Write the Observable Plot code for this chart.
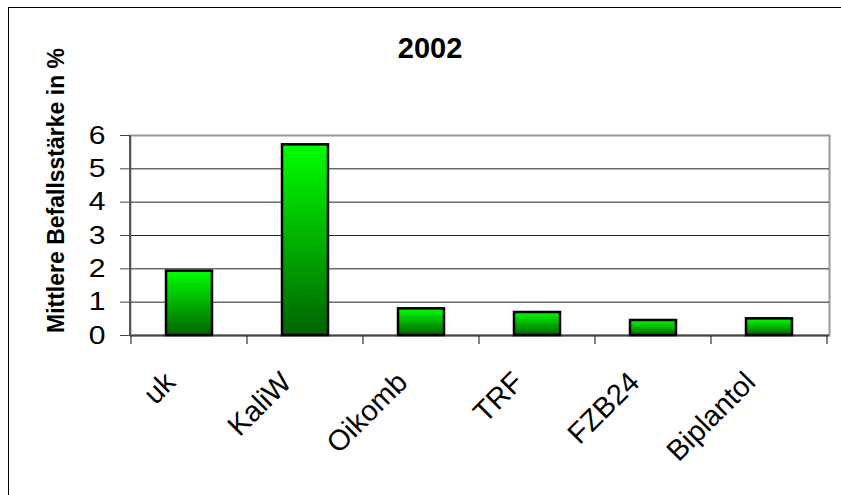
<!DOCTYPE html>
<html>
<head>
<meta charset="utf-8">
<script src="https://cdn.jsdelivr.net/npm/d3@7"></script>
<script src="https://cdn.jsdelivr.net/npm/@observablehq/plot@0.6"></script>
<style>
  html, body { margin: 0; padding: 0; background: #fff; overflow: hidden; }
  #wrap { position: relative; width: 841px; height: 495px; }
  #outer { position: absolute; left: 8px; top: 7px; width: 900px; height: 600px; border: 1.5px solid #000; box-sizing: border-box; }
  #chart { position: absolute; left: 0; top: 0; }
</style>
</head>
<body>
<div id="wrap"><div id="outer"></div><div id="chart"></div></div>
<script>
const categories = ["uk", "KaliW", "Oikomb", "TRF", "FZB24", "Biplantol"];
const values = [1.93, 5.72, 0.80, 0.69, 0.45, 0.50];
const yTicks = [0, 1, 2, 3, 4, 5, 6];
const gridValues = [1, 2, 3, 4, 5];
const titleText = "2002";
const yLabel = "Mittlere Befallsstärke in %";

const data = categories.map((c, i) => ({cat: c, value: values[i]}));
const NS = "http://www.w3.org/2000/svg";

function gradientDefs() {
  const defs = document.createElementNS(NS, "defs");
  const lg = document.createElementNS(NS, "linearGradient");
  lg.setAttribute("id", "barGrad");
  lg.setAttribute("x1", "0"); lg.setAttribute("y1", "0");
  lg.setAttribute("x2", "0"); lg.setAttribute("y2", "1");
  [["0%", "#00ff00"], ["100%", "#006400"]].forEach(([o, c]) => {
    const s = document.createElementNS(NS, "stop");
    s.setAttribute("offset", o); s.setAttribute("stop-color", c);
    lg.appendChild(s);
  });
  defs.appendChild(lg);
  return defs;
}

function axisDecor(index, scales, values, dims) {
  const g = document.createElementNS(NS, "g");
  const x = scales.x;
  const x0 = dims.marginLeft;
  const yb = dims.height - dims.marginBottom;
  const yt = dims.marginTop;
  const bw = x.bandwidth ? x.bandwidth() : 0;
  const step = x.step ? x.step() : bw;
  const bounds = categories.map(c => x(c) + bw / 2 - step / 2);
  bounds.push(x(categories[categories.length - 1]) + bw / 2 + step / 2);
  bounds.forEach(b => {
    const l = document.createElementNS(NS, "line");
    l.setAttribute("x1", b); l.setAttribute("x2", b);
    l.setAttribute("y1", yb); l.setAttribute("y2", yb + 9);
    l.setAttribute("stroke", "#333"); l.setAttribute("stroke-width", "1.2");
    g.appendChild(l);
  });
  const la = document.createElementNS(NS, "line");
  la.setAttribute("x1", x0); la.setAttribute("x2", x0);
  la.setAttribute("y1", yt); la.setAttribute("y2", yb + 1);
  la.setAttribute("stroke", "#555"); la.setAttribute("stroke-width", "2");
  g.appendChild(la);
  return g;
}

const chart = Plot.plot({
  width: 841,
  height: 495,
  marginLeft: 130,
  marginRight: 12,
  marginTop: 135,
  marginBottom: 160,
  style: {fontFamily: "'Liberation Sans', Arial, sans-serif", background: "transparent", overflow: "visible", color: "#000"},
  x: {domain: categories, paddingInner: 0.6, paddingOuter: 0.3, axis: null},
  y: {domain: [0, 6], label: null},
  marks: [
    gradientDefs,
    Plot.frame({stroke: "#999", strokeWidth: 2}),
    Plot.ruleY(gridValues, {stroke: "#222", strokeWidth: 1}),
    Plot.ruleY([0], {stroke: "#444", strokeWidth: 2}),
    Plot.axisY({ticks: yTicks, tickFormat: "d", tickSize: 10, tickPadding: 15, fontSize: 26, label: null, stroke: "#444"}),
    axisDecor,
    Plot.barY(data, {x: "cat", y: "value", fill: "url(#barGrad)", stroke: "#000", strokeWidth: 2.5}),
    Plot.text(categories, {x: d => d, frameAnchor: "bottom", rotate: -45, textAnchor: "end", lineAnchor: "middle", dx: -19, dy: 42, fontSize: 29, fill: "#000"}),
    Plot.text([titleText], {frameAnchor: "top", lineAnchor: "bottom", dx: -50, dy: -78, fontSize: 29, fontWeight: "bold", fill: "#000", ariaLabel: "stretch-title"}),
    Plot.text([yLabel], {frameAnchor: "left", rotate: -90, textAnchor: "middle", lineAnchor: "bottom", dx: -67, dy: -45, fontSize: 23, fontWeight: "bold", fill: "#000", ariaLabel: "stretch-ylabel"})
  ]
});
document.getElementById("chart").appendChild(chart);

// the reference's lettering is drawn slightly wider than it is tall
const STRETCH = 1.16;
chart.querySelectorAll("[aria-label^='stretch'] text, [aria-label='y-axis tick label'] text").forEach(t => {
  let ax = 0;
  const tr = t.transform && t.transform.baseVal.numberOfItems ? t.transform.baseVal.consolidate() : null;
  const xa = +(t.getAttribute("x") || 0);
  if (tr) {
    ax = tr.matrix.e + (Math.abs(tr.matrix.b) < 1e-6 ? xa : 0);
  } else {
    ax = xa;
  }
  const g = document.createElementNS(NS, "g");
  g.setAttribute("transform", `translate(${ax},0) scale(${STRETCH},1) translate(${-ax},0)`);
  t.parentNode.insertBefore(g, t);
  g.appendChild(t);
});
</script>
</body>
</html>
